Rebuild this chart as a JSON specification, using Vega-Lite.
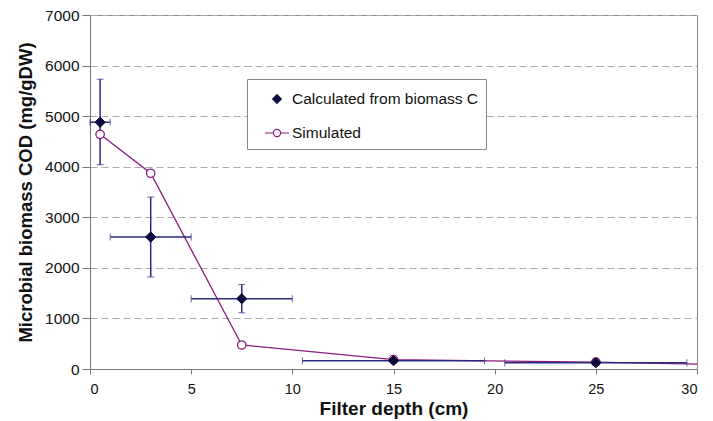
{
  "$schema": "https://vega.github.io/schema/vega-lite/v6.json",
  "width": 607,
  "height": 354,
  "autosize": {"type": "none"},
  "padding": {"left": 90, "top": 15, "right": 16, "bottom": 52},
  "background": "white",
  "config": {
    "view": {"stroke": "#888", "strokeWidth": 1},
    "font": "Liberation Sans",
    "axis": {"domainColor": "#777", "tickColor": "#777", "labelColor": "#111", "titleColor": "#111", "labelFont": "Liberation Sans", "titleFont": "Liberation Sans"}
  },
  "datasets": {
    "calc": [
      {"x": 0.5, "y": 4880, "ylo": 4040, "yhi": 5730, "xlo": 0, "xhi": 1, "series": "Calculated from biomass C"},
      {"x": 3, "y": 2610, "ylo": 1820, "yhi": 3400, "xlo": 1, "xhi": 5, "series": "Calculated from biomass C"},
      {"x": 7.5, "y": 1390, "ylo": 1110, "yhi": 1670, "xlo": 5, "xhi": 10, "series": "Calculated from biomass C"},
      {"x": 15, "y": 165, "ylo": 165, "yhi": 165, "xlo": 10.5, "xhi": 19.5, "series": "Calculated from biomass C"},
      {"x": 25, "y": 125, "ylo": 125, "yhi": 125, "xlo": 20.5, "xhi": 29.5, "series": "Calculated from biomass C"}
    ],
    "sim": [
      {"x": 0.5, "y": 4640},
      {"x": 3, "y": 3870},
      {"x": 7.5, "y": 475},
      {"x": 15, "y": 185},
      {"x": 25, "y": 135},
      {"x": 30, "y": 95}
    ]
  },
  "layer": [
    {
      "data": {"name": "sim"},
      "mark": {"type": "line", "color": "#8a1a7e", "strokeWidth": 1.3, "clip": false},
      "encoding": {
        "x": {"field": "x", "type": "quantitative", "title": "Filter depth (cm)", "scale": {"domain": [0, 30]},
          "axis": {"values": [0, 5, 10, 15, 20, 25, 30], "format": "d", "grid": false, "tickSize": 5, "labelFontSize": 14.5, "labelPadding": 8, "titleFontSize": 19, "titleFontWeight": "bold", "titlePadding": 4}},
        "y": {"field": "y", "type": "quantitative", "title": "Microbial biomass COD (mg/gDW)", "scale": {"domain": [0, 7000]},
          "axis": {"values": [0, 1000, 2000, 3000, 4000, 5000, 6000, 7000], "format": "d", "grid": true, "gridColor": "#aaa", "gridDash": [7, 4], "gridWidth": 1.2, "tickSize": 8, "labelFontSize": 15.5, "labelPadding": 3, "titleFontSize": 18.5, "titleFontWeight": "bold", "titlePadding": 9}}
      }
    },
    {
      "data": {"name": "calc"},
      "mark": {"type": "errorbar", "ticks": {"size": 7, "color": "#2a2a80"}, "rule": {"color": "#2a2a80", "strokeWidth": 1.5}},
      "encoding": {
        "x": {"field": "x", "type": "quantitative", "title": "Filter depth (cm)"},
        "y": {"field": "ylo", "type": "quantitative", "title": "Microbial biomass COD (mg/gDW)"},
        "y2": {"field": "yhi"}
      }
    },
    {
      "data": {"name": "calc"},
      "mark": {"type": "errorbar", "ticks": {"size": 7, "color": "#2a2a80"}, "rule": {"color": "#2a2a80", "strokeWidth": 1.5}},
      "encoding": {
        "y": {"field": "y", "type": "quantitative", "title": "Microbial biomass COD (mg/gDW)"},
        "x": {"field": "xlo", "type": "quantitative", "title": "Filter depth (cm)"},
        "x2": {"field": "xhi"}
      }
    },
    {
      "data": {"name": "sim"},
      "transform": [{"filter": "datum.x < 30"}],
      "mark": {"type": "point", "shape": "circle", "size": 70, "fill": "white", "fillOpacity": 1, "stroke": "#8a1a7e", "strokeWidth": 1.3, "opacity": 1},
      "encoding": {
        "x": {"field": "x", "type": "quantitative", "title": "Filter depth (cm)"},
        "y": {"field": "y", "type": "quantitative", "title": "Microbial biomass COD (mg/gDW)"}
      }
    },
    {
      "data": {"name": "calc"},
      "mark": {"type": "point", "size": 820, "strokeWidth": 1, "opacity": 1, "fillOpacity": 1},
      "encoding": {
        "x": {"field": "x", "type": "quantitative", "title": "Filter depth (cm)"},
        "y": {"field": "y", "type": "quantitative", "title": "Microbial biomass COD (mg/gDW)"},
        "shape": {"field": "series", "type": "nominal",
          "scale": {"domain": ["Calculated from biomass C", "Simulated"], "range": ["M0,-0.36L0.36,0L0,0.36L-0.36,0Z", "M-1,0L-0.3,0M0.3,0L1,0M-0.3,0A0.3,0.3 0 1 1 0.3,0A0.3,0.3 0 1 1 -0.3,0"]},
          "legend": {"title": null, "orient": "none", "legendX": 157, "legendY": 64, "symbolSize": 576, "symbolStrokeWidth": 1.2, "labelFontSize": 15.5, "labelFont": "Liberation Sans", "labelColor": "#111", "labelOffset": 2, "padding": 7, "symbolOffset": 10, "rowPadding": 12, "strokeColor": "#888", "fillColor": "white", "labelLimit": 300}},
        "fill": {"field": "series", "type": "nominal",
          "scale": {"domain": ["Calculated from biomass C", "Simulated"], "range": ["#0b0b3b", "white"]},
          "legend": {"title": null}},
        "stroke": {"field": "series", "type": "nominal",
          "scale": {"domain": ["Calculated from biomass C", "Simulated"], "range": ["#0b0b3b", "#8a1a7e"]},
          "legend": {"title": null}}
      }
    }
  ]
}
